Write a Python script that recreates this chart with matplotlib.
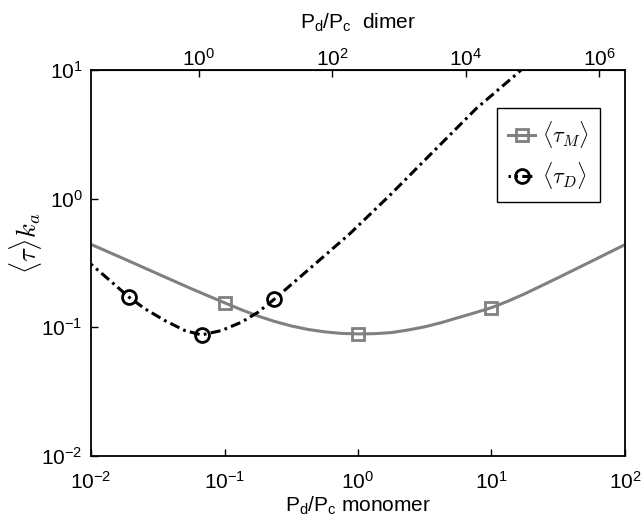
import numpy as np
import matplotlib
matplotlib.use('Agg')
import matplotlib.pyplot as plt
from matplotlib.font_manager import FontProperties

plt.rcParams['font.family'] = ['Liberation Sans', 'DejaVu Sans']
plt.rcParams['mathtext.fontset'] = 'custom'
plt.rcParams['mathtext.rm'] = 'Liberation Sans'
plt.rcParams['mathtext.it'] = 'Liberation Sans:italic'
plt.rcParams['mathtext.bf'] = 'Liberation Sans:bold'

# monomer curve (bottom axis P_d/P_c)
x_mono = [0.01, 0.0178, 0.0316, 0.0562, 0.1, 0.1334, 0.1778, 0.2371, 0.3162, 0.4217,
          0.5623, 0.7499, 1.0, 1.334, 1.778, 2.371, 3.162, 4.217, 5.623, 7.499, 10.0,
          13.34, 17.78, 31.62, 56.23, 100.0]
tau_mono = [0.4406, 0.3388, 0.2600, 0.1995, 0.1549, 0.1368, 0.1222, 0.1109, 0.1023,
            0.0961, 0.0920, 0.0895, 0.0887, 0.0891, 0.0908, 0.0951, 0.1007, 0.1086,
            0.1186, 0.1294, 0.1419, 0.1596, 0.1820, 0.2427, 0.3258, 0.4385]
mono_marks = [4, 12, 20]

# dimer curve, positions on the bottom axis
x_dim = [0.01, 0.01413, 0.01923, 0.02535, 0.03573, 0.05047, 0.0673, 0.09484, 0.134,
         0.1786, 0.235, 0.4365, 0.869, 1.734, 3.656, 7.709, 15.35, 19.95]
tau_dim = [0.309, 0.2265, 0.1714, 0.139, 0.1127, 0.09419, 0.0871, 0.09419, 0.1094,
           0.1309, 0.1644, 0.2864, 0.5333, 1.062, 2.312, 5.023, 9.247, 11.89]
dim_marks = [2, 6, 10]

C_top = 242.0  # P_d/P_c dimer = C * (P_d/P_c monomer)^2
top_ticks = [1e0, 1e2, 1e4, 1e6]

fig = plt.figure(figsize=(6.41, 5.18), dpi=100)
ax = fig.add_axes([0.142, 0.12, 0.833, 0.745])

ax.plot(x_mono, tau_mono, '-', color='#808080', lw=2.2, marker='s', ms=8.5,
        mfc='none', mec='#808080', mew=2.0, markevery=mono_marks, label=r'$\langle\tau_M\rangle$')
ax.plot(x_dim, tau_dim, color='k', lw=2.2, linestyle=(2.5, (3.3, 1.4, 0.9, 1.4)),
        marker='o', ms=10, mfc='none', mec='k', mew=2.0, markevery=dim_marks,
        label=r'$\langle\tau_D\rangle$')

ax.set_xscale('log')
ax.set_yscale('log')
ax.set_xlim(1e-2, 1e2)
ax.set_ylim(1e-2, 1e1)
ax.minorticks_off()
ax.tick_params(which='both', direction='in', length=5, width=1, labelsize=15,
               top=False, right=False)
ax.tick_params(axis='x', pad=11)
ax.tick_params(axis='y', pad=6)
for s in ax.spines.values():
    s.set_linewidth(1.3)

ax.set_xlabel(r'P$_{\rm d}$/P$_{\rm c}$ monomer', fontsize=15, labelpad=1)
ax.set_ylabel(r'$\langle\tau\rangle k_a$', fontsize=19, math_fontfamily='cm')
ax.yaxis.set_label_coords(-0.088, 0.55)

sec = ax.secondary_xaxis('top', functions=(lambda x: C_top * np.asarray(x) ** 2,
                                            lambda t: np.sqrt(np.maximum(t, 1e-300) / C_top)))
sec.set_xticks(top_ticks)
sec.minorticks_off()
sec.tick_params(direction='in', length=5, width=1, labelsize=15, pad=0)
sec.set_xlabel(r'P$_{\rm d}$/P$_{\rm c}$  dimer', fontsize=15, labelpad=14)

leg = ax.legend(loc='upper right', bbox_to_anchor=(0.953, 0.902), borderaxespad=0,
                prop=FontProperties(size=16, math_fontfamily='cm'), handlelength=1.2,
                handletextpad=0.3, labelspacing=0.45, borderpad=0.5, fancybox=False,
                framealpha=1, edgecolor='k')
leg.get_frame().set_linewidth(1.0)

fig.savefig('out.png', dpi=100)
